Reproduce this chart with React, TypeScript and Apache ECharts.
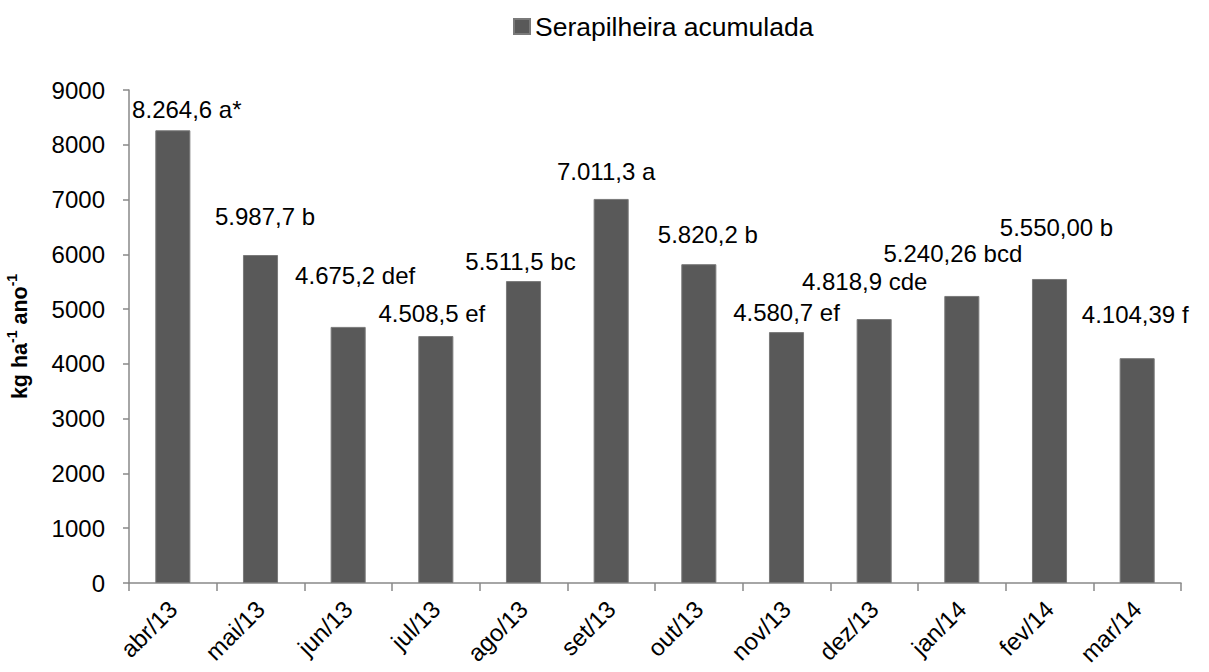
import React, { useEffect, useRef } from "react";
import * as echarts from "echarts";

const categories = ["abr/13", "mai/13", "jun/13", "jul/13", "ago/13", "set/13", "out/13", "nov/13", "dez/13", "jan/14", "fev/14", "mar/14"];
const values = [8264.6, 5987.7, 4675.2, 4508.5, 5511.5, 7011.3, 5820.2, 4580.7, 4818.9, 5240.26, 5550.0, 4104.39];
const valueLabels = ["8.264,6 a*", "5.987,7 b", "4.675,2 def", "4.508,5 ef", "5.511,5 bc", "7.011,3 a", "5.820,2 b", "4.580,7 ef", "4.818,9 cde", "5.240,26 bcd", "5.550,00 b", "4.104,39 f"];
const yTicks = { min: 0, max: 9000, interval: 1000 };
const seriesName = "Serapilheira acumulada";

// label placement (layout, not data): [dx, distance above bar top]
const labelLayout: [number, number][] = [
  [14, 21], [4.5, 39], [7, 51], [-4, 23], [-3, 20], [-5, 27],
  [9, 30], [0, 20], [-9.5, 38], [-9, 42], [7, 51.5], [-2, 44],
];

const FONT = "'Liberation Sans', Arial, sans-serif";

export default function App() {
  const ref = useRef<HTMLDivElement>(null);
  useEffect(() => {
    document.body.style.margin = "0";
    const chart = echarts.init(ref.current!, undefined, { renderer: "svg" });
    chart.setOption({
      animation: false,
      backgroundColor: "#ffffff",
      textStyle: { fontFamily: FONT },
      legend: {
        data: [seriesName],
        left: 508,
        top: 8,
        icon: "rect",
        itemWidth: 16,
        itemHeight: 15,
        itemGap: 5,
        textStyle: { fontSize: 26.5, color: "#000", fontFamily: FONT },
      },
      grid: { left: 129, right: 28, top: 90, bottom: 89, containLabel: false, outerBoundsMode: "none" },
      xAxis: {
        type: "category",
        data: categories,
        boundaryGap: true,
        axisLine: { lineStyle: { color: "#898989", width: 1.5 } },
        axisTick: { show: true, length: 8, lineStyle: { color: "#898989", width: 1.5 } },
        axisLabel: { rotate: 45, fontSize: 24, color: "#000", margin: 22, fontFamily: FONT },
      },
      yAxis: {
        type: "value",
        min: yTicks.min,
        max: yTicks.max,
        interval: yTicks.interval,
        splitLine: { show: false },
        axisLine: { show: true, lineStyle: { color: "#898989", width: 1.5 } },
        axisTick: { show: true, length: 6, lineStyle: { color: "#898989", width: 1.5 } },
        axisLabel: { fontSize: 24, color: "#000", margin: 24, fontFamily: FONT, formatter: (v: number) => String(v) },
        name: "{b|kg ha}{s|-1}{b| ano}{s|-1}",
        nameLocation: "middle",
        nameRotate: 90,
        nameGap: 98,
        nameTextStyle: {
          rich: {
            b: { fontSize: 21.5, fontWeight: "bold", color: "#000", fontFamily: FONT, lineHeight: 26, verticalAlign: "bottom" },
            s: { fontSize: 14, fontWeight: "bold", color: "#000", fontFamily: FONT, lineHeight: 26, verticalAlign: "top" },
          },
        },
      },
      series: [
        {
          name: seriesName,
          type: "bar",
          barCategoryGap: "60%",
          itemStyle: { color: "#595959", borderColor: "#7a7a7a", borderWidth: 1 },
          data: values.map((v, i) => ({
            value: v,
            label: {
              show: true,
              position: ["50%", 0],
              align: "center",
              verticalAlign: "middle",
              offset: [labelLayout[i][0], -labelLayout[i][1]],
              formatter: valueLabels[i],
              fontSize: 24,
              color: "#000",
              fontFamily: FONT,
            },
          })),
        },
      ],
    });
    return () => chart.dispose();
  }, []);
  return <div ref={ref} style={{ position: "fixed", left: 0, top: 0, width: 1209, height: 672 }} />;
}
